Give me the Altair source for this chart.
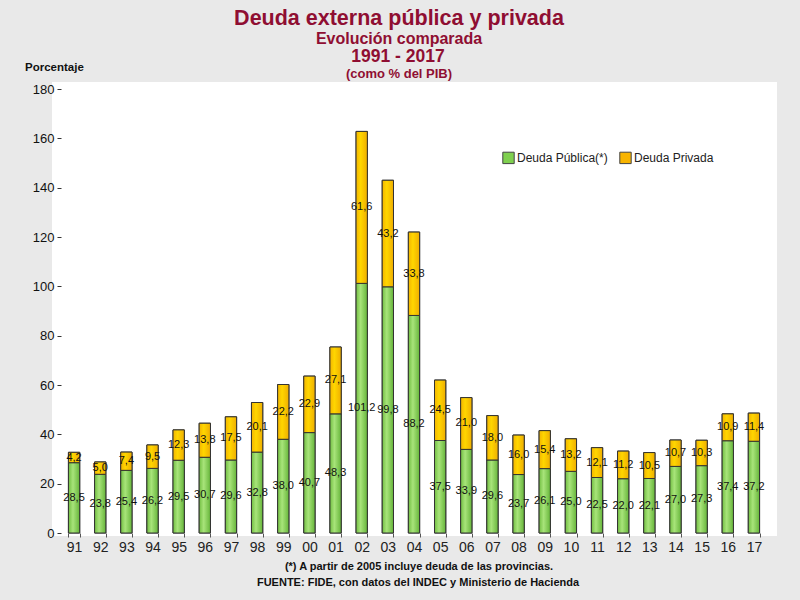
import altair as alt
import pandas as pd

years = ["91", "92", "93", "94", "95", "96", "97", "98", "99", "00", "01", "02", "03", "04",
         "05", "06", "07", "08", "09", "10", "11", "12", "13", "14", "15", "16", "17"]
publica = [28.5, 23.8, 25.4, 26.2, 29.5, 30.7, 29.6, 32.8, 38.0, 40.7, 48.3, 101.2, 99.8, 88.2,
           37.5, 33.9, 29.6, 23.7, 26.1, 25.0, 22.5, 22.0, 22.1, 27.0, 27.3, 37.4, 37.2]
privada = [4.2, 5.0, 7.4, 9.5, 12.3, 13.8, 17.5, 20.1, 22.2, 22.9, 27.1, 61.6, 43.2, 33.8,
           24.5, 21.0, 18.0, 16.0, 15.4, 13.2, 12.1, 11.2, 10.5, 10.7, 10.3, 10.9, 11.4]
series = ["Deuda Pública(*)", "Deuda Privada"]
series_colors = ["#7fd04f", "#f8b400"]
y_ticks = [0, 20, 40, 60, 80, 100, 120, 140, 160, 180]

title_lines = ["Deuda externa pública y privada", "Evolución comparada", "1991 - 2017", "(como % del PIB)"]
y_title = "Porcentaje"
footer_lines = ["(*)  A partir de 2005 incluye deuda de las provincias.",
                "FUENTE: FIDE, con datos del INDEC y Ministerio de Hacienda"]

SANS = "Liberation Sans, Arial"
TITLE_COLOR = "#8f0e32"

W, H = 706, 444

df = pd.DataFrame({"year": years, "pub": publica, "priv": privada})

x_enc = alt.X("year:N", sort=years,
              scale=alt.Scale(paddingInner=0.568, paddingOuter=0.284),
              axis=alt.Axis(title=None, labelAngle=0, labelFont=SANS, labelFontSize=14,
                            labelColor="#222", labelPadding=3, tickBand="extent", tickSize=4,
                            tickColor="#555", domain=False, zindex=1))
y_scale = alt.Scale(domain=[0, 180], nice=False, zero=True)
y_axis = alt.Axis(title=None, values=y_ticks, labelFont=SANS, labelFontSize=13,
                  labelColor="#111", tickSize=4, tickColor="#333", labelPadding=3,
                  domain=False, grid=False, zindex=1)

base = alt.Chart(df).transform_calculate(
    tot="datum.pub + datum.priv",
    mid_pub="datum.pub / 2",
    mid_priv="datum.pub + datum.priv / 2",
    lab_pub="replace(format(datum.pub, '.1f'), '.', ',')",
    lab_priv="replace(format(datum.priv, '.1f'), '.', ',')",
    s_pub="'" + series[0] + "'",
    s_priv="'" + series[1] + "'",
)

color_scale = alt.Scale(domain=series, range=series_colors)
legend = alt.Legend(title=None, orient="none", legendX=441, legendY=62, direction="horizontal",
                    symbolType="square", symbolSize=130, symbolStrokeColor="#444",
                    symbolStrokeWidth=1, labelFont=SANS, labelFontSize=12, labelColor="#222",
                    labelOffset=2, columnPadding=9)

panel = alt.Chart(pd.DataFrame({"k": [0]})).mark_rect(fill="white").encode(
    x=alt.value(-9), x2=alt.value(716), y=alt.value(-7), y2=alt.value(447))

solid_pub = base.mark_bar(stroke="#333", strokeWidth=1).encode(
    x=x_enc, y=alt.Y("pub:Q", scale=y_scale, axis=y_axis),
    color=alt.Color("s_pub:N", scale=color_scale, legend=legend))
solid_priv = base.mark_bar(stroke="#333", strokeWidth=1).encode(
    x=x_enc, y=alt.Y("pub:Q", scale=y_scale, axis=y_axis), y2="tot:Q",
    color=alt.Color("s_priv:N", scale=color_scale, legend=legend))

grad_green = alt.Gradient(gradient="linear", x1=0, x2=1, y1=0, y2=0, stops=[
    alt.GradientStop(offset=0, color="#72bf42"),
    alt.GradientStop(offset=0.4, color="#a8e47a"),
    alt.GradientStop(offset=1, color="#66b53a")])
grad_yellow = alt.Gradient(gradient="linear", x1=0, x2=1, y1=0, y2=0, stops=[
    alt.GradientStop(offset=0, color="#f3b500"),
    alt.GradientStop(offset=0.4, color="#ffd600"),
    alt.GradientStop(offset=1, color="#efae00")])

grad_pub = base.mark_bar(fill=grad_green, stroke="#333", strokeWidth=1).encode(
    x=x_enc, y=alt.Y("pub:Q", scale=y_scale, axis=y_axis))
grad_priv = base.mark_bar(fill=grad_yellow, stroke="#333", strokeWidth=1).encode(
    x=x_enc, y=alt.Y("pub:Q", scale=y_scale, axis=y_axis), y2="tot:Q")

lab_pub = base.mark_text(font=SANS, fontSize=11, color="#111", baseline="middle").encode(
    x=x_enc, y=alt.Y("mid_pub:Q", scale=y_scale, axis=y_axis), text="lab_pub:N")
lab_priv = base.mark_text(font=SANS, fontSize=11, color="#111", baseline="middle").encode(
    x=x_enc, y=alt.Y("mid_priv:Q", scale=y_scale, axis=y_axis), text="lab_priv:N")


def text_layer(txt, xpos, ypos, size, color, align="center", font=SANS):
    return alt.Chart(pd.DataFrame({"t": [txt]})).mark_text(
        font=font, fontSize=size, fontWeight="bold", color=color, align=align,
        baseline="middle").encode(text="t:N", x=alt.value(xpos), y=alt.value(ypos))


texts = [
    text_layer(title_lines[0], 338, -70, 21.5, TITLE_COLOR),
    text_layer(title_lines[1], 338, -50, 16, TITLE_COLOR),
    text_layer(title_lines[2], 337, -32.5, 17.5, TITLE_COLOR),
    text_layer(title_lines[3], 338, -15.5, 13, TITLE_COLOR),
    text_layer(y_title, -36, -21, 11.5, "#111", align="left"),
    text_layer(footer_lines[0], 358, 478, 11, "#111"),
    text_layer(footer_lines[1], 357, 494, 11, "#111"),
]

chart = alt.layer(panel, solid_pub, solid_priv, grad_pub, grad_priv, lab_pub, lab_priv, *texts).properties(
    width=W, height=H,
    autosize=alt.AutoSizeParams(type="none"),
    padding={"left": 61, "top": 89, "right": 33, "bottom": 67},
    background="#e9e9e9",
).configure_view(fill="white", stroke="#222", strokeWidth=1.5)

chart.save("out.html", embed_options={"renderer": "svg", "actions": False})
